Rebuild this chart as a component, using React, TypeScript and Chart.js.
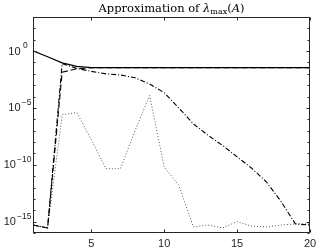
import React, { useEffect, useRef } from "react";
import { Chart, registerables } from "chart.js";

Chart.register(...registerables);

const steps = [1, 2, 3, 4, 5, 6, 7, 8, 9, 10, 11, 12, 13, 14, 15, 16, 17, 18, 19, 20];

const solidSeries = [1.07, 0.32, 0.093, 0.046, 0.035, 0.035, 0.035, 0.035, 0.035, 0.035, 0.035, 0.035, 0.035, 0.035, 0.035, 0.035, 0.035, 0.035, 0.035, 0.035];
const dashedSeries = [5e-16, 2.8e-16, 0.014, 0.028, 0.034, 0.034, 0.034, 0.034, 0.034, 0.034, 0.034, 0.034, 0.034, 0.034, 0.034, 0.034, 0.034, 0.034, 0.034, 0.034];
const dashDotSeries = [5e-16, 2.8e-16, 0.079, 0.03, 0.0166, 0.01, 0.0079, 0.0045, 0.00126, 2.2e-4, 1e-5, 4e-7, 4e-8, 5e-9, 5e-10, 5e-11, 3.2e-12, 6.3e-14, 6.3e-16, 5e-16];
const dottedSeries = [5e-16, 2.8e-16, 2.5e-6, 4e-6, 1.6e-8, 4.5e-11, 4.5e-11, 1e-7, 1.26e-4, 6.3e-11, 1.6e-12, 3.5e-16, 5e-16, 2.8e-16, 1e-15, 4e-16, 3.4e-16, 5e-16, 6.3e-16, 6.3e-16];

const xTicks = [5, 10, 15, 20];
const yMajorExponents = [0, -5, -10, -15];
const yMinExp = -16;
const yMaxExp = 3;

const axisColor = "#262626";
const sansFont = "'Liberation Sans', Arial, Helvetica, sans-serif";
const serifFont = "'DejaVu Serif', serif";

const matlabAxes = {
  id: "matlabAxes",
  afterDraw(chart: any) {
    const ctx = chart.ctx as CanvasRenderingContext2D;
    const { left, right, top, bottom } = chart.chartArea;
    const xs = chart.scales.x;
    const ys = chart.scales.y;
    const L = Math.round(left) + 0.5;
    const R = Math.round(right) - 0.5;
    const T = Math.round(top) + 0.5;
    const B = Math.round(bottom) - 0.5;
    ctx.save();
    ctx.strokeStyle = axisColor;
    ctx.lineWidth = 1;
    ctx.setLineDash([]);
    ctx.strokeRect(L, T, R - L, B - T);

    ctx.beginPath();
    for (const v of xTicks) {
      const px = Math.round(xs.getPixelForValue(v)) + 0.5;
      ctx.moveTo(px, B);
      ctx.lineTo(px, B - 3);
      ctx.moveTo(px, T);
      ctx.lineTo(px, T + 3);
    }
    for (let e = yMinExp; e <= yMaxExp; e++) {
      const py = Math.round(ys.getPixelForValue(Math.pow(10, e))) + 0.5;
      const len = yMajorExponents.includes(e) ? 3 : 2;
      ctx.moveTo(L, py);
      ctx.lineTo(L + len, py);
      ctx.moveTo(R, py);
      ctx.lineTo(R - len, py);
    }
    ctx.stroke();

    ctx.fillStyle = axisColor;
    ctx.font = `11px ${sansFont}`;
    ctx.textAlign = "center";
    ctx.textBaseline = "middle";
    for (const v of xTicks) {
      const px = xs.getPixelForValue(v);
      ctx.fillText(String(v), px, 244);
    }

    for (const e of yMajorExponents) {
      const py = ys.getPixelForValue(Math.pow(10, e));
      const expText = e === 0 ? "0" : "\u2212" + String(-e);
      ctx.font = `8.5px ${sansFont}`;
      const expW = ctx.measureText(expText).width;
      let expLeft: number;
      let baseRight: number;
      if (e === 0) {
        expLeft = 23;
        baseRight = 20.5;
      } else {
        expLeft = 31.5 - expW;
        baseRight = expLeft - 1.2;
      }
      ctx.textAlign = "left";
      ctx.textBaseline = "middle";
      ctx.fillText(expText, expLeft, py - 5);
      ctx.font = `11px ${sansFont}`;
      ctx.textAlign = "right";
      ctx.fillText("10", baseRight, py + 0.5);
    }

    const parts: { t: string; font: string; dy: number }[] = [
      { t: "Approximation of ", font: `11.5px ${serifFont}`, dy: 0 },
      { t: "\u03bb", font: `italic 11.5px ${serifFont}`, dy: 0 },
      { t: "max", font: `8px ${serifFont}`, dy: 2.5 },
      { t: "(", font: `11.5px ${serifFont}`, dy: 0 },
      { t: "A", font: `italic 11.5px ${serifFont}`, dy: 0 },
      { t: ")", font: `11.5px ${serifFont}`, dy: 0 },
    ];
    let total = 0;
    const widths: number[] = [];
    for (const p of parts) {
      ctx.font = p.font;
      const w = ctx.measureText(p.t).width;
      widths.push(w);
      total += w;
    }
    const cx = (left + right) / 2;
    let xpos = cx - total / 2;
    ctx.fillStyle = "#000";
    ctx.textAlign = "left";
    ctx.textBaseline = "alphabetic";
    parts.forEach((p, i) => {
      ctx.font = p.font;
      ctx.fillText(p.t, xpos, 11.5 + p.dy);
      xpos += widths[i];
    });
    ctx.restore();
  },
};

export default function App() {
  const canvasRef = useRef<HTMLCanvasElement | null>(null);

  useEffect(() => {
    document.body.style.margin = "0";
    const canvas = canvasRef.current;
    if (!canvas) return;
    const mk = (arr: number[]) => steps.map((s, i) => ({ x: s, y: arr[i] }));
    const chart = new Chart(canvas, {
      type: "line",
      data: {
        datasets: [
          {
            label: "dashed",
            data: mk(dashedSeries),
            borderColor: "#000",
            borderWidth: 1.1,
            borderDash: [6, 3],
            pointRadius: 0,
            tension: 0,
          },
          {
            label: "solid",
            data: mk(solidSeries),
            borderColor: "#000",
            borderWidth: 1.3,
            pointRadius: 0,
            tension: 0,
          },
          {
            label: "dashdot",
            data: mk(dashDotSeries),
            borderColor: "#000",
            borderWidth: 1.1,
            borderDash: [5, 2, 1, 2],
            pointRadius: 0,
            tension: 0,
          },
          {
            label: "dotted",
            data: mk(dottedSeries),
            borderColor: "#555",
            borderWidth: 1,
            borderDash: [1, 2],
            pointRadius: 0,
            tension: 0,
          },
        ],
      },
      options: {
        animation: false,
        responsive: false,
        devicePixelRatio: 1,
        layout: { padding: { left: 33, right: 6, top: 17, bottom: 16 } },
        plugins: {
          legend: { display: false },
          title: { display: false },
          tooltip: { enabled: false },
        },
        scales: {
          x: { type: "linear", min: 1, max: 20, display: false },
          y: {
            type: "logarithmic",
            min: Math.pow(10, yMinExp),
            max: Math.pow(10, yMaxExp),
            display: false,
          },
        },
      },
      plugins: [matlabAxes],
    });
    return () => chart.destroy();
  }, []);

  return (
    <div style={{ position: "absolute", left: 0, top: 0, width: 316, height: 249, background: "#fff" }}>
      <canvas ref={canvasRef} width={316} height={249} style={{ display: "block" }} />
    </div>
  );
}
